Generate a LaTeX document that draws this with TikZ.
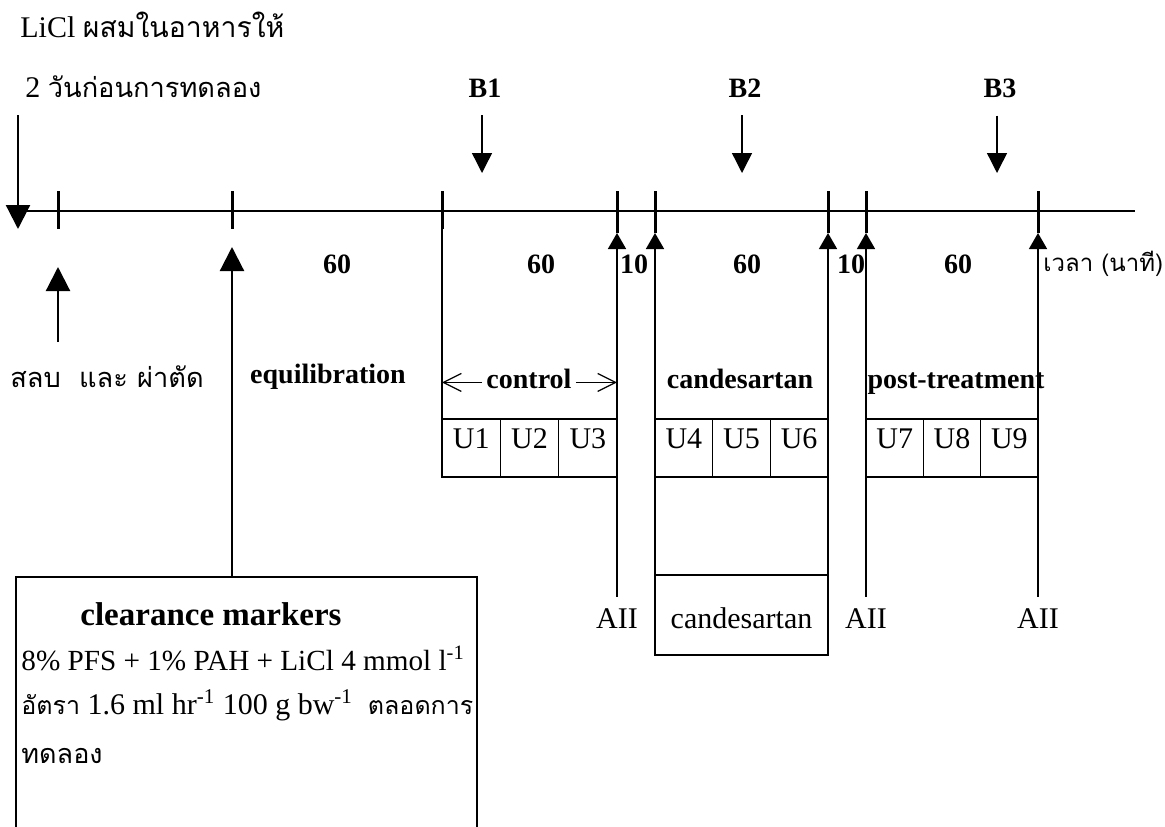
\documentclass[tikz,border=0pt]{standalone}
\usepackage{fontspec}
\setmainfont{Liberation Serif}
\newfontfamily\thaifont[Script=Thai]{Loma}
\usetikzlibrary{arrows.meta,positioning}
\newcommand{\thai}[2]{{\thaifont\fontsize{#1}{#1}\selectfont #2}}
\newcommand{\supinv}{\textsuperscript{-1}}

\begin{document}
\begin{tikzpicture}[x=0.5pt,y=-0.5pt,
  every node/.style={inner sep=0pt,font=\fontsize{15}{18}\selectfont},
  hdr/.style={font=\fontsize{14}{17}\selectfont\bfseries},
  axisline/.style={line width=1pt},
  tickmark/.style={line width=1.5pt},
  shaft/.style={line width=0.7pt},
  bigup/.style={line width=1.1pt,-{Triangle[width=12pt,length=12pt]}},
  bdown/.style={line width=0.7pt,-{Triangle[width=10pt,length=10pt]}},
  smallup/.style={line width=0.8pt,-{Triangle[width=9pt,length=8pt]}},
  spanarrow/.style={line width=0.6pt,-{Straight Barb[length=9pt,width=9pt]}},
  ucell/.style={draw,line width=0.8pt,outer sep=0pt,minimum height=29pt,
    text height=10pt,text depth=10pt}]
\useasboundingbox (0,0) rectangle (1165,826);

% time axis
\coordinate (start) at (10,211);
\coordinate (stop) at (1135,211);
\draw[axisline] (start) -- (stop);
\foreach \n/\x/\b in {surg/58/229,eq/232/229,c0/442/229,c1/617/233,
                      d0/655/233,d1/828/233,p0/866/233,p1/1038/233}{
  \coordinate (\n) at (\x,211);
  \draw[tickmark] (\x,191) -- (\x,\b);
}

% LiCl in the food
\node[anchor=base west] (licl) at (20,37) {LiCl \thai{14.2}{ผสมในอาหารให้}};
\node[anchor=base west] (days) at (25,97) {2 \thai{13.6}{วันก่อนการทดลอง}};
\coordinate (licltop) at (18,115);
\coordinate (liclfoot) at (18,229);
\draw[bigup] (licltop) -- (liclfoot);

% bolus points
\foreach \n/\x in {B1/482,B2/742,B3/997}{
  \node[hdr,anchor=base] (\n) at (\x+3,97) {\n};
  \coordinate (\n tip) at (\x,173);
  \draw[bdown,shorten <=9pt] (\n tip |- \n.south) -- (\n tip);
}

% minutes
\foreach \x/\t in {337/60,541/60,634/10,747/60,851/10,958/60}
  \node[hdr,anchor=base] (min\x) at (\x,273) {\t};
\node[anchor=base west] (time) at (1043,271) {\thai{12}{เวลา (นาที)}};

% surgery, equilibration
\node[anchor=base] (surgtxt) at (107,387) {\thai{13.6}{สลบ\ \ และ ผ่าตัด}};
\coordinate (surgfoot) at (58,342);
\draw[bigup,shorten >=28pt] (surgfoot) -- (surg);
\node[hdr,anchor=base] (equil) at (328,383) {equilibration};

% clearance markers
\node[draw,line width=0.8pt,outer sep=0pt,anchor=north west,
      minimum width=230.5pt,minimum height=140pt] (clear) at (16,577) {};
\coordinate (clearin) at (eq |- clear.north);
\draw[bigup,shorten >=18pt] (clearin) -- (eq);
\node[font=\fontsize{16.5}{20}\selectfont\bfseries,anchor=base west] (cmtitle) at (80,625) {clearance markers};
\node[font=\fontsize{14.6}{18}\selectfont,anchor=base west] (cm1) at (21,670) {8\% PFS + 1\% PAH + LiCl 4 mmol l\supinv};
\node[anchor=base west] (cm2) at (21,714) {\thai{12.5}{อัตรา} 1.6 ml hr\supinv{} 100 g bw\supinv\ \ \thai{12.5}{ตลอดการ}};
\node[anchor=base west] (cm3) at (21,763) {\thai{13.5}{ทดลอง}};

% urine collections
\foreach \x/\w/\i/\j/\k in {442/29.17pt/1/2/3,655/28.83pt/4/5/6,866/28.67pt/7/8/9}{
  \node[ucell,minimum width=\w,anchor=north west] (U\i) at (\x,419) {U\i};
  \node[ucell,minimum width=\w,right=0pt of U\i] (U\j) {U\j};
  \node[ucell,minimum width=\w,right=0pt of U\j] (U\k) {U\k};
}
\draw[shaft] (c0) -- (U1.north west);

% periods
\node[hdr,anchor=base] (ctrl) at (529,388) {control};
\coordinate (ctrlL) at ([yshift=-2pt]ctrl.west);
\coordinate (ctrlR) at ([yshift=-2pt]ctrl.east);
\draw[spanarrow,shorten <=2pt] (ctrlL) -- (ctrlL -| c0);
\draw[spanarrow,shorten <=2pt] (ctrlR) -- (ctrlR -| c1);
\node[hdr,anchor=base] (candhdr) at (740,388) {candesartan};
\node[hdr,anchor=base] (posthdr) at (956,388) {post-treatment};

% candesartan infusion
\node[draw,line width=0.8pt,outer sep=0pt,anchor=south west,minimum width=86.5pt,
      minimum height=40pt,text height=13pt,text depth=0pt] (cand) at (655,655) {candesartan};
\draw[smallup,shorten >=11pt] (cand.south west) -- (d0);
\draw[smallup,shorten >=11pt] (cand.south east) -- (d1);

% angiotensin II
\foreach \n/\x in {c1/617,p0/866,p1/1038}{
  \node[anchor=base] (AII\n) at (\x,628) {AII};
  \draw[smallup,shorten <=5.5pt,shorten >=11pt] (AII\n.north) -- (\n);
}
\end{tikzpicture}
\end{document}
